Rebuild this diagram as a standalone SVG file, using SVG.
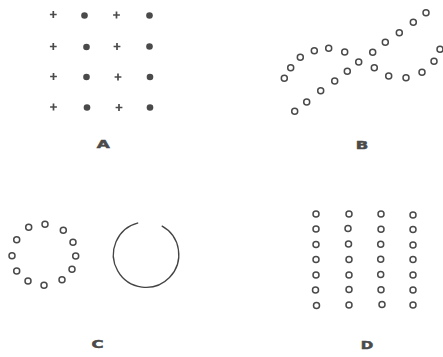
<svg xmlns="http://www.w3.org/2000/svg" width="443" height="357" viewBox="0 0 443 357">
<defs>
<style>
.cr{stroke:#4a4a4a;stroke-width:1.7;fill:none}
.dt{fill:#4a4a4a}
.o{fill:none;stroke:#4a4a4a;stroke-width:1.5}
.arc{fill:none;stroke:#444;stroke-width:1.3}
.lb{font-family:"DejaVu Sans",sans-serif;font-weight:bold;font-size:11px;fill:#4a4a4a;stroke:#4a4a4a;stroke-width:0.5;text-anchor:middle}
</style>
<path id="x" class="cr" d="M-3.4,0H3.4M0,-3.4V3.4"/>
<circle id="d" class="dt" r="3.3"/>
<circle id="c" class="o" r="3"/>
</defs>
<g id="figA">
<use href="#x" x="53.3" y="14.5"/><use href="#d" x="84.5" y="15.5"/><use href="#x" x="116.5" y="15"/><use href="#d" x="149.5" y="15.5"/>
<use href="#x" x="53.3" y="46.5"/><use href="#d" x="86.5" y="47"/><use href="#x" x="117" y="46.5"/><use href="#d" x="149.5" y="46.5"/>
<use href="#x" x="53.5" y="76.5"/><use href="#d" x="86.5" y="77"/><use href="#x" x="118" y="77"/><use href="#d" x="150" y="77"/>
<use href="#x" x="53.5" y="107"/><use href="#d" x="87" y="107.5"/><use href="#x" x="119" y="107.5"/><use href="#d" x="150" y="107.5"/>
<text class="lb" x="103.3" y="148.3" textLength="13" lengthAdjust="spacingAndGlyphs">A</text>
</g>
<g id="figB">
<use href="#c" x="284.3" y="78.3"/><use href="#c" x="290.7" y="67.7"/><use href="#c" x="300.3" y="57.3"/><use href="#c" x="314.3" y="50.7"/><use href="#c" x="328.7" y="48.3"/><use href="#c" x="344.7" y="52"/><use href="#c" x="358.7" y="62"/><use href="#c" x="374.3" y="67.7"/><use href="#c" x="388.7" y="76"/><use href="#c" x="406" y="77.7"/><use href="#c" x="422" y="72.3"/><use href="#c" x="434" y="61.3"/><use href="#c" x="440" y="49.3"/>
<use href="#c" x="294.7" y="111.3"/><use href="#c" x="306.7" y="102"/><use href="#c" x="320.7" y="90.7"/><use href="#c" x="334.7" y="81"/><use href="#c" x="347.3" y="71.3"/><use href="#c" x="372.7" y="52.3"/><use href="#c" x="385.3" y="42.3"/><use href="#c" x="399.3" y="32.7"/><use href="#c" x="413.3" y="22.3"/><use href="#c" x="426" y="12.7"/>
<text class="lb" x="362" y="149.3" textLength="12.5" lengthAdjust="spacingAndGlyphs">B</text>
</g>
<g id="figC">
<use href="#c" x="12" y="255.7"/><use href="#c" x="16.7" y="239.7"/><use href="#c" x="28.7" y="227.3"/><use href="#c" x="45" y="224.3"/><use href="#c" x="63.3" y="230.3"/><use href="#c" x="73" y="242.3"/><use href="#c" x="75.7" y="256"/><use href="#c" x="72" y="269.3"/><use href="#c" x="62" y="279.7"/><use href="#c" x="44" y="285.3"/><use href="#c" x="28" y="281"/><use href="#c" x="16.7" y="271"/>
<path class="arc" d="M161.7,225.9 A32.7,32.7 0 1 1 138.2,222.9"/>
<text class="lb" x="97.5" y="348.3" textLength="12" lengthAdjust="spacingAndGlyphs">C</text>
</g>
<g id="figD">
<use href="#c" x="316" y="214"/><use href="#c" x="349" y="214"/><use href="#c" x="381" y="214"/><use href="#c" x="413" y="215"/>
<use href="#c" x="316" y="229"/><use href="#c" x="348" y="228.5"/><use href="#c" x="381" y="229.3"/><use href="#c" x="413" y="229.5"/>
<use href="#c" x="316" y="244.5"/><use href="#c" x="348.5" y="244"/><use href="#c" x="380.7" y="244.3"/><use href="#c" x="413" y="245"/>
<use href="#c" x="316" y="259.5"/><use href="#c" x="349" y="259.5"/><use href="#c" x="380.7" y="259.3"/><use href="#c" x="413" y="259.5"/>
<use href="#c" x="316" y="275"/><use href="#c" x="349" y="275"/><use href="#c" x="380.7" y="274.5"/><use href="#c" x="413" y="275"/>
<use href="#c" x="315.5" y="290"/><use href="#c" x="349" y="289.5"/><use href="#c" x="381" y="289.7"/><use href="#c" x="413" y="290"/>
<use href="#c" x="316.5" y="305.5"/><use href="#c" x="349" y="305"/><use href="#c" x="382" y="304.5"/><use href="#c" x="413" y="305"/>
<text class="lb" x="367" y="349.3" textLength="12.5" lengthAdjust="spacingAndGlyphs">D</text>
</g>
<g id="connectors"/>
</svg>
